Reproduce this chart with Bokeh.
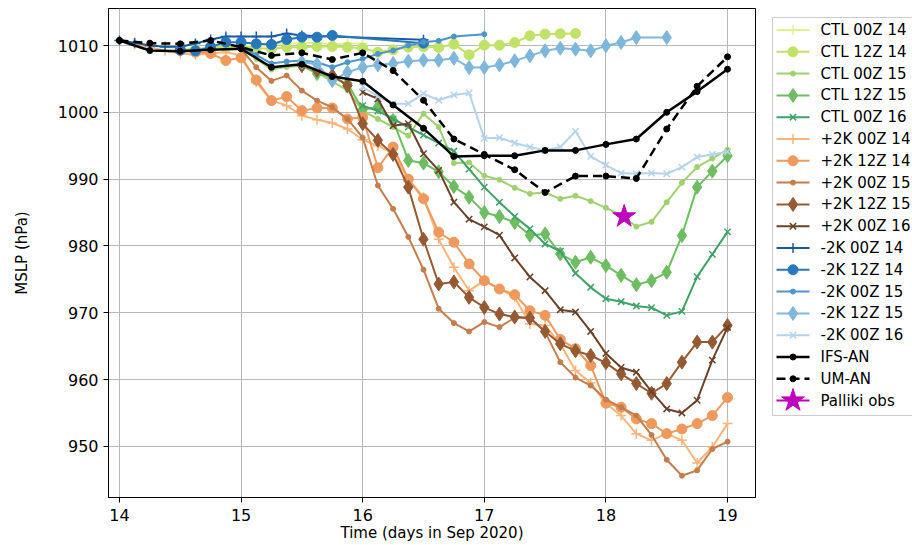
from bokeh.plotting import figure
from bokeh.models import Range1d, FixedTicker
from bokeh.layouts import row
from bokeh.core.properties import value
from bokeh.embed import file_html
from bokeh.resources import INLINE

# ---------------- data ----------------
T3 = [14.0, 14.125, 14.25, 14.375, 14.5, 14.625, 14.75, 14.875,
      15.0, 15.125, 15.25, 15.375, 15.5, 15.625, 15.75, 15.875,
      16.0, 16.125, 16.25, 16.375, 16.5, 16.625, 16.75, 16.875,
      17.0, 17.125, 17.25, 17.375, 17.5, 17.625, 17.75, 17.875,
      18.0, 18.125, 18.25, 18.375, 18.5, 18.625, 18.75, 18.875, 19.0]
T6 = [14.0, 14.25, 14.5, 14.75, 15.0, 15.25, 15.5, 15.75, 16.0, 16.25, 16.5,
      16.75, 17.0, 17.25, 17.5, 17.75, 18.0, 18.25, 18.5, 18.75, 19.0]

ctl_00z14 = [1010.75, 1010.3, 1010.0, 1009.8, 1009.6, 1009.5, 1009.6, 1009.9, 1010.0,
             1009.9, 1010.1, 1010.3, 1010.3, 1010.4, 1010.2, 1010.3, 1010.3]
ctl_12z14 = [1009.3, 1009.4, 1009.7, 1009.8, 1009.9, 1009.6, 1009.5, 1009.75, 1009.75,
             1009.85, 1009.85, 1009.75, 1009.6, 1009.0, 1009.35, 1009.75, 1009.8, 1009.7,
             1010.2, 1008.6, 1010.05, 1010.05, 1010.45, 1011.45, 1011.7, 1011.75, 1011.8]
ctl_00z15 = [1009.7, 1008.0, 1006.4, 1006.8, 1007.0, 1006.0, 1004.6, 1003.3,
             1000.2, 999.0, 997.8, 996.5, 999.8, 997.8, 992.4, 992.5,
             990.5, 989.9, 988.7, 987.8, 988.0, 987.05, 987.5, 986.7,
             985.7, 984.6, 982.9, 983.6, 986.55, 989.45, 991.8, 993.1, 994.4]
ctl_12z15 = [1007.0, 1005.8, 1005.25, 1004.3,
             1000.4, 1000.8, 998.8, 992.8, 992.4, 991.1, 988.9, 987.3,
             985.0, 984.4, 983.5, 981.6, 981.8, 978.8, 977.55, 978.3,
             977.05, 975.6, 974.2, 974.8, 976.05, 981.55, 988.8, 991.2, 993.5]
ctl_00z16 = [1001.0, 1000.2, 999.0, 997.8, 996.6, 995.4, 994.2, 991.5,
             988.8, 986.55, 984.4, 982.55, 980.3, 979.2, 975.9, 973.8,
             972.1, 971.65, 971.0, 970.75, 969.6, 970.2, 975.4, 978.75, 982.1]

p2k_00z14 = [1010.75, 1010.2, 1009.8, 1009.2, 1008.8, 1008.6, 1008.8, 1009.0,
             1008.5, 1004.5, 1001.8, 1001.0, 999.5, 998.9, 998.4, 997.5,
             995.9, 995.0, 993.8, 990.0, 987.3, 981.0, 976.8, 973.3,
             974.8, 973.6, 972.3, 968.3, 968.1, 965.3, 961.35, 959.5,
             956.4, 954.6, 951.9, 950.9, 951.9, 950.9, 947.5, 949.9, 953.4]
p2k_12z14 = [1009.3, 1009.0, 1008.8, 1007.75,
             1008.15, 1004.85, 1001.75, 1002.35, 1000.25, 1000.65, 1000.65, 999.0,
             999.25, 991.7, 994.8, 990.0, 987.05, 982.05, 980.55, 977.3,
             974.8, 973.55, 972.7, 970.3, 969.6, 966.0, 964.6, 962.1,
             956.45, 955.85, 954.1, 953.4, 951.9, 952.6, 953.4, 954.6, 957.3]
p2k_00z15 = [1009.5, 1006.75, 1004.7, 1005.5, 1003.25, 1001.75, 1000.75, 999.0,
             996.2, 989.05, 985.55, 981.35, 976.45, 970.6, 968.45, 967.2,
             968.6, 967.85, 969.25, 969.3, 967.1, 962.6, 960.3, 959.1,
             957.0, 955.85, 954.6, 951.7, 948.0, 945.6, 946.4, 949.6, 950.7]
p2k_12z15 = [1007.0, 1006.3, 1005.5, 1004.0,
             998.3, 995.8, 993.7, 988.8, 981.0, 974.3, 974.6, 972.3,
             970.8, 969.8, 969.35, 969.2, 967.2, 965.35, 964.3, 963.6,
             962.5, 960.85, 959.4, 957.95, 959.4, 962.6, 965.6, 965.6, 968.1]
p2k_00z16 = [1003.0, 1002.0, 998.0, 998.3, 993.8, 991.3, 986.55, 984.0,
             982.85, 981.6, 978.2, 975.35, 973.3, 970.45, 970.1, 967.2,
             963.9, 961.8, 961.1, 958.2, 955.6, 955.0, 956.9, 962.9, 967.8]

m2k_00z14_t = [14.0, 14.125, 14.25, 14.375, 14.5, 14.625, 14.75, 14.875,
               15.0, 15.125, 15.25, 15.375, 15.5, 16.5]
m2k_00z14 = [1010.75, 1010.4, 1010.0, 1009.8, 1009.8, 1010.3, 1010.9, 1011.35,
             1011.35, 1011.35, 1011.35, 1011.8, 1011.5, 1010.85]
m2k_12z14_t = [14.5, 14.625, 14.75, 14.875, 15.0, 15.125, 15.25, 15.375,
               15.5, 15.625, 15.75, 16.5]
m2k_12z14 = [1009.3, 1009.2, 1009.8, 1010.5, 1010.5, 1010.25, 1010.15, 1010.9,
             1011.25, 1011.25, 1011.5, 1010.35]
m2k_00z15_t = [15.0, 15.125, 15.25, 15.375, 15.5, 15.625, 15.75, 15.875,
               16.0, 16.125, 16.25, 16.375, 16.5, 16.625, 16.75, 17.0]
m2k_00z15 = [1009.7, 1008.6, 1007.3, 1007.6, 1007.75, 1007.5, 1006.75, 1007.5,
             1008.0, 1008.75, 1009.25, 1010.0, 1010.5, 1010.7, 1011.35, 1011.7]
m2k_12z15_t = [15.5, 15.625, 15.75, 15.875, 16.0, 16.125, 16.25, 16.375,
               16.5, 16.625, 16.75, 16.875, 17.0, 17.125, 17.25, 17.375,
               17.5, 17.625, 17.75, 17.875, 18.0, 18.125, 18.25, 18.5]
m2k_12z15 = [1007.5, 1007.2, 1004.75, 1006.0, 1006.75, 1007.1, 1007.3, 1007.65,
             1007.8, 1007.8, 1008.1, 1006.7, 1006.7, 1007.1, 1007.7, 1008.45,
             1009.2, 1009.6, 1009.45, 1009.2, 1009.95, 1010.45, 1011.2, 1011.2]
m2k_00z16 = [1003.8, 1002.4, 1001.3, 1001.3, 1002.8, 1001.8, 1002.6, 1002.9,
             996.1, 996.2, 995.4, 994.8, 994.3, 994.8, 997.15, 993.4,
             992.1, 990.9, 990.8, 990.9, 990.8, 991.8, 993.3, 993.7, 994.1]

ifs_an = [1010.75, 1009.25, 1009.15, 1009.35, 1009.5, 1006.75, 1007.2, 1005.35,
          1004.65, 1001.1, 997.6, 993.4, 993.5, 993.5, 994.3, 994.3, 995.2, 996.0,
          1000.0, 1003.1, 1006.45]
um_an = [1010.75, 1010.35, 1010.25, 1010.75, 1009.75, 1008.5, 1008.9, 1007.9,
         1008.9, 1006.25, 1001.8, 996.0, 993.7, 991.4, 988.0, 990.45, 990.45, 990.1,
         997.5, 1003.9, 1008.3]

obs_t = [18.15]
obs_p = [984.4]

X_TICKS = [14, 15, 16, 17, 18, 19]
Y_TICKS = [950, 960, 970, 980, 990, 1000, 1010]

# label, times, values, colour, marker
series = [
    ("CTL 00Z 14", T3[0:17], ctl_00z14, "#e2f28a", "cross"),
    ("CTL 12Z 14", T3[4:31], ctl_12z14, "#c1e266", "circle"),
    ("CTL 00Z 15", T3[8:41], ctl_00z15, "#9fd26e", "dot"),
    ("CTL 12Z 15", T3[12:41], ctl_12z15, "#6dbe60", "diamond"),
    ("CTL 00Z 16", T3[16:41], ctl_00z16, "#3fa267", "x"),
    ("+2K 00Z 14", T3[0:41], p2k_00z14, "#fdb47a", "cross"),
    ("+2K 12Z 14", T3[4:41], p2k_12z14, "#ef9a5c", "circle"),
    ("+2K 00Z 15", T3[8:41], p2k_00z15, "#c47d4b", "dot"),
    ("+2K 12Z 15", T3[12:41], p2k_12z15, "#965a33", "diamond"),
    ("+2K 00Z 16", T3[16:41], p2k_00z16, "#6b4228", "x"),
    ("-2K 00Z 14", m2k_00z14_t, m2k_00z14, "#1b5aa0", "cross"),
    ("-2K 12Z 14", m2k_12z14_t, m2k_12z14, "#2777bd", "circle"),
    ("-2K 00Z 15", m2k_00z15_t, m2k_00z15, "#4a96cb", "dot"),
    ("-2K 12Z 15", m2k_12z15_t, m2k_12z15, "#7db7dc", "diamond"),
    ("-2K 00Z 16", T3[16:41], m2k_00z16, "#b5d4eb", "x"),
    ("IFS-AN", T6, ifs_an, "black", "blackdot"),
    ("UM-AN", T6, um_an, "black", "blackdot_dash"),
    ("Palliki obs", obs_t, obs_p, "#bf00bf", "star"),
]

FONT = "DejaVu Sans"

# marker styling (pixels)
MSTYLE = {
    "cross": dict(marker="cross", size=10, line_width=1.5, fill=False),
    "circle": dict(marker="circle", size=10, line_width=1, fill=True),
    "dot": dict(marker="circle", size=5, line_width=1, fill=True),
    "diamond": dict(marker="diamond", size=14, line_width=1, fill=True),
    "x": dict(marker="x", size=9, line_width=1.5, fill=False),
    "blackdot": dict(marker="circle", size=6, line_width=1, fill=True),
    "blackdot_dash": dict(marker="circle", size=6, line_width=1, fill=True),
    "star": dict(marker="star", size=24, line_width=1, fill=True),
}


def draw(fig, xs, ys, col, mk, draw_line=True):
    st = MSTYLE[mk]
    if draw_line:
        lw = 2.5 if mk.startswith("blackdot") else 2
        dash = "9 5" if mk == "blackdot_dash" else "solid"
        fig.line(xs, ys, line_color=col, line_width=lw, line_dash=dash)
    fig.scatter(xs, ys, marker=st["marker"], size=st["size"], line_color=col,
                line_width=st["line_width"],
                fill_color=col if st["fill"] else None)


# ---------------- main plot ----------------
p = figure(width=760, height=545, output_backend="svg", toolbar_location=None,
           x_range=Range1d(13.91, 19.23), y_range=Range1d(942.34, 1015.54),
           min_border_left=108, min_border_right=5, min_border_top=8,
           min_border_bottom=48)
p.background_fill_color = "white"
p.border_fill_color = "white"
p.outline_line_color = "black"
p.outline_line_width = 1

p.xaxis.ticker = FixedTicker(ticks=X_TICKS)
p.yaxis.ticker = FixedTicker(ticks=Y_TICKS)
for ax in (p.xaxis[0], p.yaxis[0]):
    ax.major_label_text_font = FONT
    ax.major_label_text_font_size = "16px"
    ax.major_label_text_color = "black"
    ax.axis_line_color = "black"
    ax.major_tick_line_color = "black"
    ax.major_tick_out = 5
    ax.major_tick_in = 0
    ax.minor_tick_line_color = None
    ax.major_label_standoff = 5
    ax.axis_label_text_font = FONT
    ax.axis_label_text_font_size = "15px"
    ax.axis_label_text_font_style = "normal"
    ax.axis_label_text_color = "black"
p.xaxis.major_label_standoff = 6
p.yaxis.axis_label = "MSLP (hPa)"
p.yaxis.axis_label_standoff = 24
p.xaxis.axis_label = "Time (days in Sep 2020)"
p.xaxis.axis_label_standoff = 0

p.xgrid.grid_line_color = "#b8b8b8"
p.ygrid.grid_line_color = "#b8b8b8"
p.xgrid.grid_line_width = 1
p.ygrid.grid_line_width = 1

for label, t, v, col, mk in series:
    draw(p, t, v, col, mk, draw_line=(mk != "star"))

# ---------------- legend panel (page pixel coordinates) ----------------
lg = figure(width=152, height=545, output_backend="svg", toolbar_location=None,
            x_range=Range1d(760, 912), y_range=Range1d(497, 8),
            min_border_left=0, min_border_right=0, min_border_top=8,
            min_border_bottom=48)
lg.axis.visible = False
lg.grid.visible = False
lg.outline_line_color = None
lg.background_fill_color = "white"
lg.border_fill_color = "white"

LEG_LEFT, LEG_TOP, LEG_BOTTOM = 772, 17, 415
ROW0, PITCH = 29.5, 21.8
lg.quad(left=[LEG_LEFT], right=[918], top=[LEG_TOP], bottom=[LEG_BOTTOM],
        fill_color="white", line_color="#cccccc", line_width=1)

lab_y = []
lab_t = []
for i, (label, t, v, col, mk) in enumerate(series):
    yy = ROW0 + PITCH * i
    lw = 2.5 if mk.startswith("blackdot") else 2
    dash = "9 5" if mk == "blackdot_dash" else "solid"
    lg.line([776, 809], [yy, yy], line_color=col, line_width=lw, line_dash=dash)
    draw(lg, [792.5], [yy], col, mk, draw_line=False)
    lab_y.append(yy)
    lab_t.append(label)

lg.text(x=[820] * len(lab_t), y=lab_y, text=lab_t, text_font=value(FONT),
        text_font_size="15px", text_baseline="middle", text_align="left",
        text_color="black")

layout = row(p, lg)
open("out.html", "w").write(file_html(layout, INLINE))
